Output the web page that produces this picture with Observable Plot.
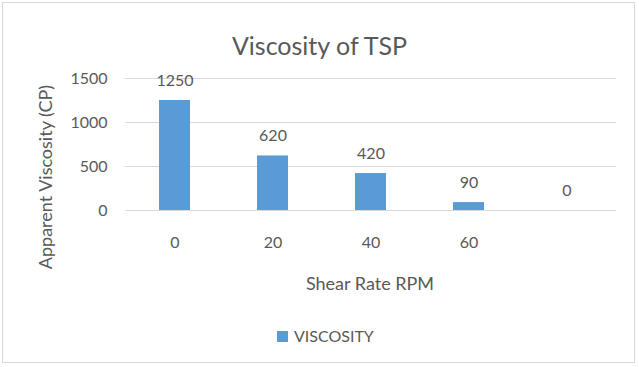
<!DOCTYPE html>
<html><head><meta charset="utf-8">
<script src="https://cdn.jsdelivr.net/npm/d3@7"></script>
<script src="https://cdn.jsdelivr.net/npm/@observablehq/plot@0.6"></script>
<style>
body{margin:0;background:#fff;}
#wrap{position:relative;width:639px;height:367px;font-family:Lato,sans-serif;color:#595959;overflow:hidden;background:#fff;}
#border{position:absolute;left:2px;top:2px;width:633px;height:361px;border:1px solid #d9d9d9;box-sizing:border-box;}
#chart{position:absolute;left:0;top:0;}
#title{position:absolute;left:0;width:639px;top:31px;text-align:center;font-size:25px;line-height:28px;}
#ytitle{position:absolute;left:45px;top:177px;transform:translate(-50%,-50%) rotate(-90deg);white-space:nowrap;font-size:18px;line-height:20px;}
#xtitle{position:absolute;left:370px;top:283px;transform:translate(-50%,-50%);white-space:nowrap;font-size:18px;line-height:20px;}
#legend{position:absolute;left:277px;top:327px;display:flex;align-items:center;font-size:16px;line-height:18px;}
#legend .sw{width:11px;height:11px;background:#5B9BD5;margin-right:6px;}
</style>
</head><body>
<div id="wrap">
  <div id="border"></div>
  <div id="chart"></div>
  <div id="title">Viscosity of TSP</div>
  <div id="ytitle">Apparent Viscosity (CP)</div>
  <div id="xtitle">Shear Rate RPM</div>
  <div id="legend"><div class="sw"></div><span id="legtext">VISCOSITY</span></div>
</div>
<script>
const categories = ["0", "20", "40", "60", ""];
const viscosity = [1250, 620, 420, 90, 0];
const yTicks = [0, 500, 1000, 1500];
const seriesName = "VISCOSITY";

const data = categories.map((c, i) => ({cat: c, value: viscosity[i]}));
const color = "#5B9BD5";
const textColor = "#595959";

const plot = Plot.plot({
  width: 639,
  height: 367,
  marginLeft: 125,
  marginRight: 23,
  marginTop: 78,
  marginBottom: 157,
  style: {fontFamily: "Lato, sans-serif", color: textColor, background: "transparent"},
  x: {type: "band", domain: categories, paddingInner: 0.68, paddingOuter: 0.34},
  y: {domain: [0, 1500]},
  marks: [
    Plot.gridY(yTicks, {stroke: "#d9d9d9", strokeOpacity: 1, strokeWidth: 1}),
    Plot.barY(data, {x: "cat", y: "value", fill: color}),
    Plot.axisY({ticks: yTicks, tickFormat: d => String(d), tickSize: 0, tickPadding: 18, fontSize: 16, label: null, fill: textColor}),
    Plot.axisX({tickSize: 0, tickPadding: 26, fontSize: 16, label: null, fill: textColor}),
    Plot.text(data, {x: "cat", y: "value", text: d => String(d.value), dy: -20, fontSize: 16, fill: textColor})
  ]
});
document.getElementById("chart").appendChild(plot);
document.getElementById("legtext").textContent = seriesName;
</script>
</body></html>
